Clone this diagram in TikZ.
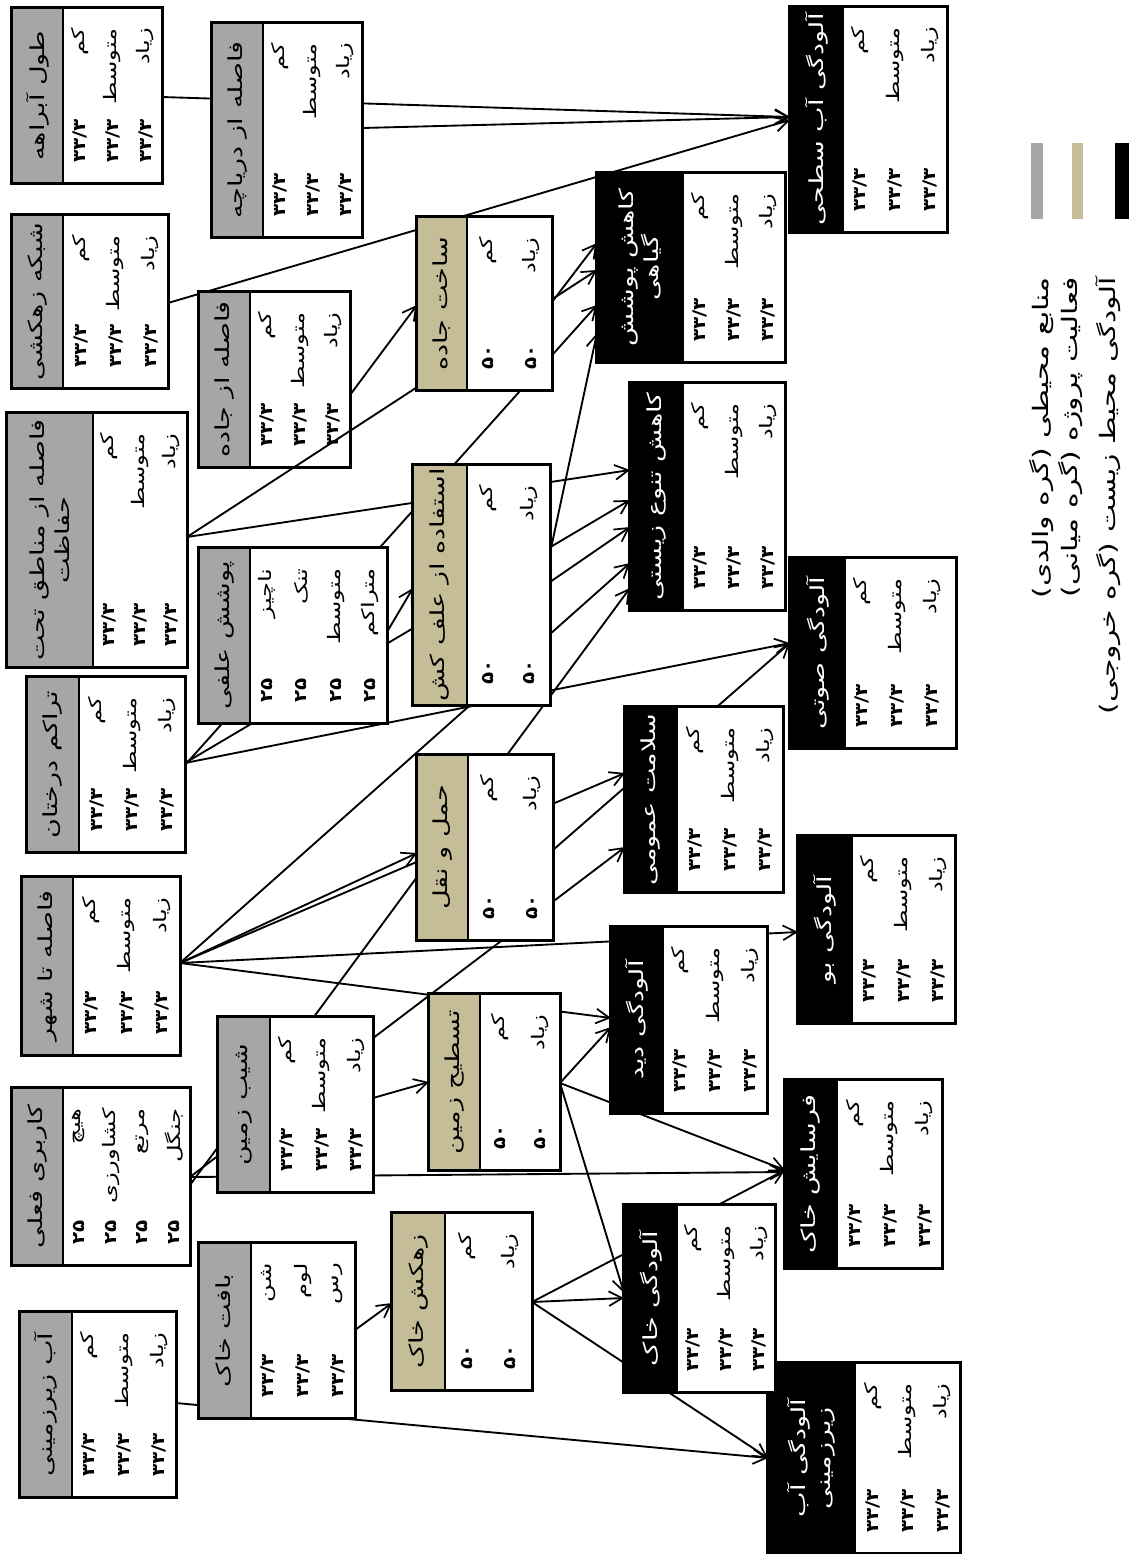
\documentclass[tikz,border=0pt]{standalone}
\usepackage{fontspec}
\newfontfamily\fa[Script=Arabic,FakeStretch=1.4]{DejaVu Sans}
\newfontfamily\fanum[Script=Arabic,FakeStretch=1.15]{DejaVu Sans}
\TeXXeTstate=1
\usetikzlibrary{arrows.meta,fit}
\definecolor{pgray}{HTML}{A6A6A6}
\definecolor{ptan}{HTML}{C4BD97}
\newcommand\fatext[1]{\fa\beginR #1\endR}
\tikzset{
 lnk/.style={line width=1.4pt,-{Straight Barb[length=10pt,width=11pt,line width=1.3pt]}},
 ttl/.style={rotate=90,font=\fa\fontsize{14.5}{19}\selectfont,inner sep=0pt,align=center},
 lbl/.style={rotate=90,anchor=east,font=\fa\fontsize{13}{15}\selectfont,inner sep=0pt},
 num/.style={rotate=90,anchor=west,font=\fanum\bfseries\fontsize{13}{15}\selectfont,inner sep=0pt},
 leg/.style={rotate=90,anchor=east,font=\fa\fontsize{16}{19}\selectfont,inner sep=0pt},
}
\newcommand\conn[3]{\coordinate (#1s) at (#2); \coordinate (#1e) at (#3); \draw[lnk] (#1s) -- (#1e);}
\newcommand\netbox[9]{%
 \node[fit={(#2,#3) (#4,#5)},inner sep=0pt,fill=white] (#1) {};
 \fill[#7] (#2,#3) rectangle (#6,#5);
 \draw[line width=1.6pt] (#6,#3) -- (#6,#5);
 \draw[line width=2.6pt] (#1.north west) rectangle (#1.south east);
 \pgfmathsetmacro\tcx{(#2+#6)/2}\pgfmathsetmacro\tcy{(#3+#5)/2}
 \node[ttl,text=#8] (#1-t) at (\tcx,\tcy) {#9};
}
\newcommand\rw[6]{\node[lbl] (#1l) at (#2,#3) {\fatext{#5}};\node[num] (#1n) at (#2,#4) {#6};}
\newcommand\threerows[8]{%
 \pgfmathsetmacro\rsT{#4+20}\pgfmathsetmacro\rsU{#5-20}%
 \pgfmathsetmacro\rsA{#2+(#3-#2)/6}\rw{#1a}{\rsA}{\rsT}{\rsU}{#6}{۳۳/۳}%
 \pgfmathsetmacro\rsA{#2+(#3-#2)/2}\rw{#1b}{\rsA}{\rsT}{\rsU}{#7}{۳۳/۳}%
 \pgfmathsetmacro\rsA{#2+5*(#3-#2)/6}\rw{#1c}{\rsA}{\rsT}{\rsU}{#8}{۳۳/۳}%
}
\newcommand\stdrows[5]{\threerows{#1}{#2}{#3}{#4}{#5}{کم}{متوسط}{زیاد}}
\newcommand\tworows[5]{%
 \pgfmathsetmacro\rsT{#4+20}\pgfmathsetmacro\rsU{#5-20}%
 \pgfmathsetmacro\rsA{#2+(#3-#2)/4}\rw{#1a}{\rsA}{\rsT}{\rsU}{کم}{۵۰}%
 \pgfmathsetmacro\rsA{#2+3*(#3-#2)/4}\rw{#1b}{\rsA}{\rsT}{\rsU}{زیاد}{۵۰}%
}
\newcommand\fourrows[9]{%
 \pgfmathsetmacro\rsT{#4+20}\pgfmathsetmacro\rsU{#5-20}%
 \pgfmathsetmacro\rsA{#2+(#3-#2)/8}\rw{#1a}{\rsA}{\rsT}{\rsU}{#6}{۲۵}%
 \pgfmathsetmacro\rsA{#2+3*(#3-#2)/8}\rw{#1b}{\rsA}{\rsT}{\rsU}{#7}{۲۵}%
 \pgfmathsetmacro\rsA{#2+5*(#3-#2)/8}\rw{#1c}{\rsA}{\rsT}{\rsU}{#8}{۲۵}%
 \pgfmathsetmacro\rsA{#2+7*(#3-#2)/8}\rw{#1d}{\rsA}{\rsT}{\rsU}{#9}{۲۵}%
}
\begin{document}
\begin{tikzpicture}[x=0.75pt,y=-0.75pt]
\useasboundingbox (0,0) rectangle (1129,1554);
\fill[white] (0,0) rectangle (1129,1554);
% connectors (drawn under the boxes)
\conn{c1}{162,97}{790,117}
\conn{c2}{362,128}{790,117}
\conn{c3}{168,303}{790,120}
\conn{c4}{350,395}{417,305}
\conn{c5}{552,302}{597,243}
\conn{c7}{185,765}{597,305}
\conn{c8}{550,553}{597,333}
\conn{c9}{187,537}{630,470}
\conn{c10}{185,763}{630,500}
\conn{c11}{550,582}{630,527}
\conn{c12}{180,963}{630,563}
\conn{c13}{190,1185}{630,588}
\conn{c14}{387,632}{413,588}
\conn{c15}{185,763}{790,643}
\conn{c16}{553,850}{790,643}
\conn{c17}{180,963}{625,773}
\conn{c18}{190,1177}{625,847}
\conn{c19}{180,963}{417,853}
\conn{c20}{180,963}{798,932}
\conn{c21}{180,963}{611,1018}
\conn{c22}{560,1083}{611,1027}
\conn{c23}{373,1098}{429,1082}
\conn{c24}{560,1083}{624,1293}
\conn{c25}{560,1083}{785,1170}
\conn{c26}{190,1177}{785,1172}
\conn{c27}{532,1302}{624,1298}
\conn{c28}{532,1302}{785,1170}
\conn{c29}{532,1302}{768,1458}
\conn{c30}{176,1403}{768,1458}
\conn{c31}{355,1330}{392,1303}
% parent nodes
\netbox{tul}{12}{8}{162}{183}{63}{pgray}{black}{\fatext{طول آبراهه}}
\stdrows{tul}{63}{162}{8}{183}
\netbox{dar}{212}{23}{362}{237}{263}{pgray}{black}{\fatext{فاصله از دریاچه}}
\stdrows{dar}{263}{362}{23}{237}
\netbox{shz}{12}{215}{168}{388}{63}{pgray}{black}{\fatext{شبکه زهکشی}}
\stdrows{shz}{63}{168}{215}{388}
\netbox{jad}{199}{292}{350}{467}{250}{pgray}{black}{\fatext{فاصله از جاده}}
\stdrows{jad}{250}{350}{292}{467}
\netbox{man}{7}{413}{187}{667}{93}{pgray}{black}{\fatext{فاصله از مناطق تحت}\\\fatext{حفاظت}}
\stdrows{man}{93}{187}{413}{667}
\netbox{alf}{199}{548}{387}{723}{250}{pgray}{black}{\fatext{پوشش علفی}}
\fourrows{alf}{250}{387}{548}{723}{ناچیز}{تنک}{متوسط}{متراکم}
\netbox{der}{27}{677}{185}{852}{79}{pgray}{black}{\fatext{تراکم درختان}}
\stdrows{der}{79}{185}{677}{852}
\netbox{shr}{22}{877}{180}{1055}{73}{pgray}{black}{\fatext{فاصله تا شهر}}
\stdrows{shr}{73}{180}{877}{1055}
\netbox{shb}{218}{1017}{373}{1192}{270}{pgray}{black}{\fatext{شیب زمین}}
\stdrows{shb}{270}{373}{1017}{1192}
\netbox{kar}{12}{1088}{190}{1265}{63}{pgray}{black}{\fatext{کاربری فعلی}}
\fourrows{kar}{63}{190}{1088}{1265}{هیچ}{کشاورزی}{مرتع}{جنگل}
\netbox{baf}{199}{1243}{355}{1418}{251}{pgray}{black}{\fatext{بافت خاک}}
\threerows{baf}{251}{355}{1243}{1418}{شن}{لوم}{رس}
\netbox{abz}{20}{1312}{176}{1497}{72}{pgray}{black}{\fatext{آب زیرزمینی}}
\stdrows{abz}{72}{176}{1312}{1497}
% this connector runs over the box of فاصله از جاده
\conn{c6}{187,537}{597,270}
% middle nodes
\netbox{mjad}{417}{217}{552}{390}{467}{ptan}{black}{\fatext{ساخت جاده}}
\tworows{mjad}{467}{552}{217}{390}
\netbox{malf}{413}{465}{550}{705}{467}{ptan}{black}{\fatext{استفاده از علف کش}}
\tworows{malf}{467}{550}{465}{705}
\netbox{mhml}{417}{755}{553}{940}{468}{ptan}{black}{\fatext{حمل و نقل}}
\tworows{mhml}{468}{553}{755}{940}
\netbox{mtas}{429}{994}{560}{1170}{480}{ptan}{black}{\fatext{تسطیح زمین}}
\tworows{mtas}{480}{560}{994}{1170}
\netbox{mzah}{392}{1213}{532}{1390}{445}{ptan}{black}{\fatext{زهکش خاک}}
\tworows{mzah}{445}{532}{1213}{1390}
% output nodes
\netbox{oab}{790}{7}{947}{232}{843}{black}{white}{\fatext{آلودگی آب سطحی}}
\stdrows{oab}{843}{947}{7}{232}
\netbox{opos}{597}{173}{785}{362}{683}{black}{white}{\fatext{کاهش پوشش}\\\fatext{گیاهی}}
\stdrows{opos}{683}{785}{173}{362}
\netbox{otan}{630}{383}{785}{610}{683}{black}{white}{\fatext{کاهش تنوع زیستی}}
\stdrows{otan}{683}{785}{383}{610}
\netbox{osot}{790}{558}{956}{748}{845}{black}{white}{\fatext{آلودگی صوتی}}
\stdrows{osot}{845}{949}{558}{748}
\netbox{osal}{625}{707}{783}{892}{677}{black}{white}{\fatext{سلامت عمومی}}
\stdrows{osal}{677}{783}{707}{892}
\netbox{obu}{798}{836}{955}{1023}{852}{black}{white}{\fatext{آلودگی بو}}
\stdrows{obu}{852}{955}{836}{1023}
\netbox{odid}{611}{927}{767}{1113}{663}{black}{white}{\fatext{آلودگی دید}}
\stdrows{odid}{663}{767}{927}{1113}
\netbox{ofer}{785}{1080}{942}{1268}{837}{black}{white}{\fatext{فرسایش خاک}}
\stdrows{ofer}{837}{942}{1080}{1268}
\netbox{oabz}{768}{1363}{960}{1553}{855}{black}{white}{\fatext{آلودگی آب}\\\fatext{زیرزمینی}}
\stdrows{oabz}{855}{960}{1363}{1553}
\netbox{okhk}{624}{1205}{775}{1392}{677}{black}{white}{\fatext{آلودگی خاک}}
\stdrows{okhk}{677}{775}{1205}{1392}
% legend
\fill[pgray] (1031,143) rectangle (1043,219);
\fill[ptan] (1072,143) rectangle (1083,219);
\fill[black] (1115,143) rectangle (1129,219);
\node[leg] (lg1) at (1042,277) {\fatext{منابع محیطی (گره والدی)}};
\node[leg] (lg2) at (1071,277) {\fatext{فعالیت پروژه (گره میانی)}};
\node[leg] (lg3) at (1108,277) {\fatext{آلودگی محیط زیست (گره خروجی)}};
\end{tikzpicture}
\end{document}
